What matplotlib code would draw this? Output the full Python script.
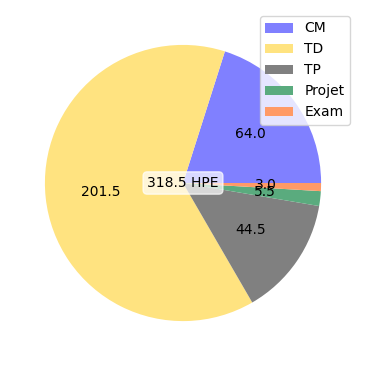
import matplotlib
matplotlib.use("Agg")
import matplotlib.pyplot as plt
import numpy as np

labels = ["CM", "TD", "TP", "Projet", "Exam"]
hours = [64.0, 201.5, 44.5, 5.5, 3.0]
colors = ["#8080ff", "#ffe380", "#808080", "#5aab7e", "#ff9a66"]

total = sum(hours)

fig = plt.figure(figsize=(3.66, 3.66), dpi=100)
ax = fig.add_axes([9 / 366, 9 / 366, 348 / 366, 348 / 366])
wedges, texts = ax.pie(hours, colors=colors)
ax.set_xlim(-1.26, 1.26)
ax.set_ylim(-1.26, 1.26)

# values written inside the wedges
for w, v in zip(wedges, hours):
    ang = np.deg2rad((w.theta1 + w.theta2) / 2)
    ax.text(0.6 * np.cos(ang), 0.6 * np.sin(ang), f"{v}", ha="center", va="center")

ax.text(0, 0, f"{total} HPE", ha="center", va="center",
        bbox=dict(boxstyle="round", facecolor="white", edgecolor="white", alpha=0.7))
ax.legend(wedges, labels, loc="upper right")
fig.savefig("out.png")
